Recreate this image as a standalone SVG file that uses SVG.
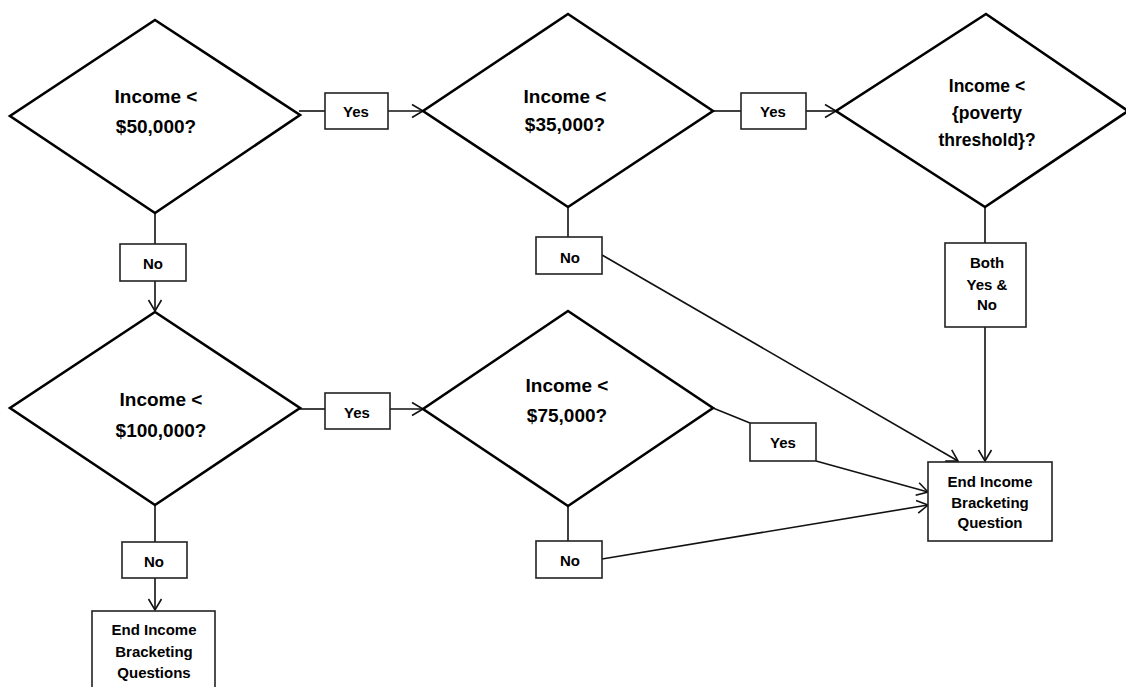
<svg xmlns="http://www.w3.org/2000/svg" width="1126" height="687" viewBox="0 0 1126 687">
<style>
.dia{fill:#fff;stroke:#000;stroke-width:2.6;stroke-linejoin:miter}
.box{fill:#fff;stroke:#222;stroke-width:1.6}
.con{fill:none;stroke:#111;stroke-width:1.6}
.dt{font-family:"Liberation Sans",Arial,sans-serif;font-weight:bold;font-size:19px;text-anchor:middle;fill:#000}
.dt3{font-family:"Liberation Sans",Arial,sans-serif;font-weight:bold;font-size:17.5px;text-anchor:middle;fill:#000}
.lt{font-family:"Liberation Sans",Arial,sans-serif;font-weight:bold;font-size:15px;text-anchor:middle;fill:#000}
</style>
<defs>
<marker id="arr" markerUnits="userSpaceOnUse" markerWidth="14" markerHeight="16" viewBox="-1 -8 13 16" refX="11" refY="0" orient="auto">
<path d="M0,-6.5 L11,0 L0,6.5" fill="none" stroke="#111" stroke-width="1.6"/>
</marker>
</defs>
<rect width="1126" height="687" fill="#fff"/>
<g id="connectors">
<line class="con" x1="299" y1="111" x2="325" y2="111"/>
<line class="con" x1="388" y1="111" x2="423" y2="111" marker-end="url(#arr)"/>
<line class="con" x1="713" y1="111" x2="741" y2="111"/>
<line class="con" x1="806" y1="111" x2="836" y2="111" marker-end="url(#arr)"/>
<line class="con" x1="155" y1="213" x2="155" y2="244"/>
<line class="con" x1="155" y1="281" x2="155" y2="311" marker-end="url(#arr)"/>
<line class="con" x1="568" y1="207" x2="568" y2="237"/>
<line class="con" x1="602" y1="255" x2="958" y2="461" marker-end="url(#arr)"/>
<line class="con" x1="985" y1="207" x2="985" y2="243"/>
<line class="con" x1="985" y1="327" x2="985" y2="461" marker-end="url(#arr)"/>
<line class="con" x1="300" y1="409" x2="325" y2="409"/>
<line class="con" x1="390" y1="409" x2="423" y2="409" marker-end="url(#arr)"/>
<line class="con" x1="713" y1="408" x2="750" y2="423"/>
<line class="con" x1="816" y1="461" x2="928" y2="492" marker-end="url(#arr)"/>
<line class="con" x1="568" y1="506" x2="568" y2="541"/>
<line class="con" x1="602" y1="559" x2="928" y2="505" marker-end="url(#arr)"/>
<line class="con" x1="155" y1="505" x2="155" y2="542"/>
<line class="con" x1="155" y1="578" x2="155" y2="610" marker-end="url(#arr)"/>
</g>
<g id="d1">
<polygon class="dia" points="155,20 300,115 155,213 10,116"/>
<text class="dt" x="156" y="103">Income &lt;</text>
<text class="dt" x="156" y="133">$50,000?</text>
</g>
<g id="d2">
<polygon class="dia" points="568,14 713,111 568,207 423,111"/>
<text class="dt" x="565" y="103">Income &lt;</text>
<text class="dt" x="565" y="131">$35,000?</text>
</g>
<g id="d3">
<polygon class="dia" points="986,14 1128,111 985,207 836,111"/>
<text class="dt3" x="987" y="92">Income &lt;</text>
<text class="dt3" x="987" y="119">{poverty</text>
<text class="dt3" x="987" y="146">threshold}?</text>
</g>
<g id="d4">
<polygon class="dia" points="155,312 300,408 155,505 10,408"/>
<text class="dt" x="161" y="406">Income &lt;</text>
<text class="dt" x="161" y="437">$100,000?</text>
</g>
<g id="d5">
<polygon class="dia" points="568,311 713,408 568,506 423,409"/>
<text class="dt" x="567" y="392">Income &lt;</text>
<text class="dt" x="567" y="422">$75,000?</text>
</g>
<g id="yes1">
<rect class="box" x="325" y="93" width="63" height="36"/>
<text class="lt" x="356" y="117">Yes</text>
</g>
<g id="yes2">
<rect class="box" x="741" y="93" width="65" height="36"/>
<text class="lt" x="773" y="117">Yes</text>
</g>
<g id="no1">
<rect class="box" x="120" y="244" width="66" height="37"/>
<text class="lt" x="153" y="269">No</text>
</g>
<g id="no2">
<rect class="box" x="536" y="237" width="66" height="37"/>
<text class="lt" x="570" y="263">No</text>
</g>
<g id="both">
<rect class="box" x="945" y="243" width="81" height="84"/>
<text class="lt" x="987" y="268">Both</text>
<text class="lt" x="987" y="290">Yes &amp;</text>
<text class="lt" x="987" y="310">No</text>
</g>
<g id="yes3">
<rect class="box" x="325" y="393" width="65" height="36"/>
<text class="lt" x="357" y="418">Yes</text>
</g>
<g id="yes5">
<rect class="box" x="750" y="423" width="66" height="38"/>
<text class="lt" x="783" y="448">Yes</text>
</g>
<g id="end2">
<rect class="box" x="928" y="462" width="124" height="79"/>
<text class="lt" x="990" y="487">End Income</text>
<text class="lt" x="990" y="508">Bracketing</text>
<text class="lt" x="990" y="528">Question</text>
</g>
<g id="no4">
<rect class="box" x="122" y="542" width="65" height="36"/>
<text class="lt" x="154" y="567">No</text>
</g>
<g id="no5">
<rect class="box" x="536" y="541" width="66" height="37"/>
<text class="lt" x="570" y="566">No</text>
</g>
<g id="end1">
<rect class="box" x="92" y="611" width="123" height="90"/>
<text class="lt" x="154" y="635">End Income</text>
<text class="lt" x="154" y="657">Bracketing</text>
<text class="lt" x="154" y="678">Questions</text>
</g>
</svg>
